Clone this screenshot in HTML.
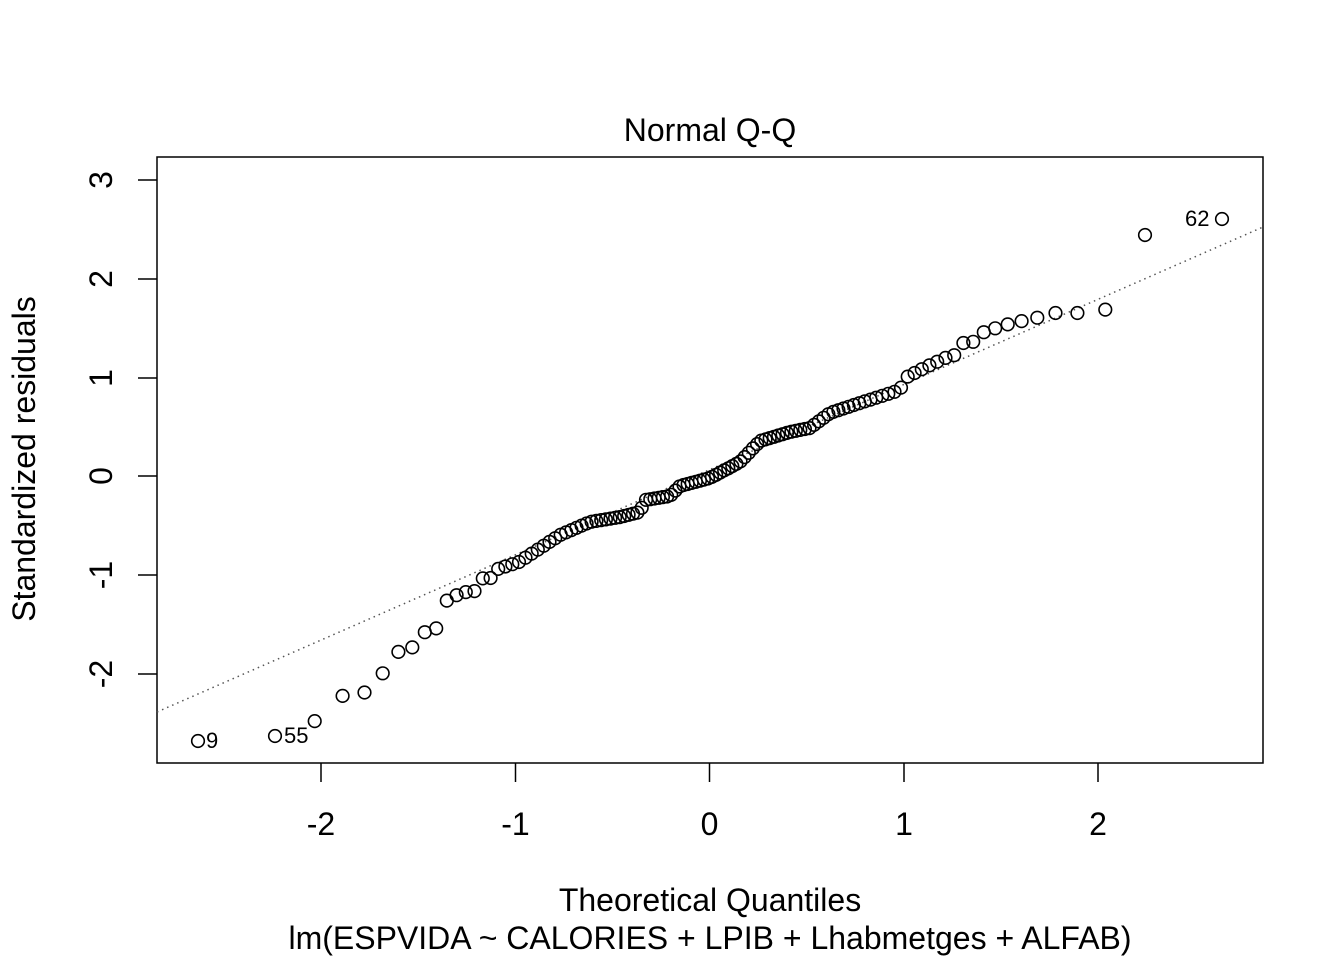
<!DOCTYPE html>
<html><head><meta charset="utf-8"><style>html,body{margin:0;padding:0;background:#fff}svg{display:block}</style></head>
<body>
<svg id="s" width="1344" height="960" xmlns="http://www.w3.org/2000/svg" font-family="Liberation Sans, Arial, sans-serif">
<rect width="1344" height="960" fill="#fff"/>
<rect x="157" y="157" width="1106" height="606" fill="none" stroke="#000" stroke-width="1.5"/>
<line x1="157" y1="712" x2="1263" y2="227" stroke="#555" stroke-width="1.5" stroke-dasharray="1.5,4"/>
<g stroke="#000" stroke-width="1.5">
<line x1="321" y1="763" x2="321" y2="782"/><line x1="515.5" y1="763" x2="515.5" y2="782"/><line x1="709.5" y1="763" x2="709.5" y2="782"/><line x1="904" y1="763" x2="904" y2="782"/><line x1="1098" y1="763" x2="1098" y2="782"/>
<line x1="157" y1="180" x2="138" y2="180"/><line x1="157" y1="279" x2="138" y2="279"/><line x1="157" y1="378" x2="138" y2="378"/><line x1="157" y1="476" x2="138" y2="476"/><line x1="157" y1="575" x2="138" y2="575"/><line x1="157" y1="674" x2="138" y2="674"/>
</g>
<g font-size="32" text-anchor="middle" fill="#000">
<text x="321" y="835">-2</text><text x="515.5" y="835">-1</text><text x="709.5" y="835">0</text><text x="904" y="835">1</text><text x="1098" y="835">2</text>
<text transform="translate(112,180) rotate(-90)">3</text>
<text transform="translate(112,279) rotate(-90)">2</text>
<text transform="translate(112,378) rotate(-90)">1</text>
<text transform="translate(112,476) rotate(-90)">0</text>
<text transform="translate(112,575) rotate(-90)">-1</text>
<text transform="translate(112,674) rotate(-90)">-2</text>
<text x="710" y="141">Normal Q-Q</text>
<text x="710" y="911">Theoretical Quantiles</text>
<text x="710" y="949">lm(ESPVIDA ~ CALORIES + LPIB + Lhabmetges + ALFAB)</text>
<text transform="translate(35,459) rotate(-90)">Standardized residuals</text>
</g>
<g font-size="22" fill="#000">
<text x="206" y="748">9</text><text x="284" y="743">55</text><text x="1185" y="226">62</text>
</g>
<g id="pts" fill="none" stroke="#000" stroke-width="1.6"></g>
</svg>
<script>
function qn(p){var a=[-39.69683028665376,220.9460984245205,-275.9285104469687,138.357751867269,-30.66479806614716,2.506628277459239],b=[-54.47609879822406,161.5858368580409,-155.6989798598866,66.80131188771972,-13.28068155288572],c=[-0.007784894002430293,-0.3223964580411365,-2.400758277161838,-2.549732539343734,4.374664141464968,2.938163982698783],d=[0.007784695709041462,0.3224671290700398,2.445134137142996,3.754408661907416];var q,r;if(p<0.02425){q=Math.sqrt(-2*Math.log(p));return(((((c[0]*q+c[1])*q+c[2])*q+c[3])*q+c[4])*q+c[5])/((((d[0]*q+d[1])*q+d[2])*q+d[3])*q+1);}if(p>1-0.02425){q=Math.sqrt(-2*Math.log(1-p));return-(((((c[0]*q+c[1])*q+c[2])*q+c[3])*q+c[4])*q+c[5])/((((d[0]*q+d[1])*q+d[2])*q+d[3])*q+1);}q=p-0.5;r=q*q;return(((((a[0]*r+a[1])*r+a[2])*r+a[3])*r+a[4])*r+a[5])*q/(((((b[0]*r+b[1])*r+b[2])*r+b[3])*r+b[4])*r+1);}
var A=[[198,741],[275,736],[315,721],[342,696],[364,693],[383,673],[398,652],[411,649],[425,632],[436,629],[447,600],[457,595],[466,592],[475,591],[483,578],[491,578],[498,569],[519,562],[560,535],[590,522],[620,517],[640,512],[645,500],[670,496],[680,486],[710,478],[740,462],[760,441],[790,432],[810,428],[830,413],[860,403],[900,390],[905,378],[928,366],[945,358],[955,355],[963,343],[973,342],[984,332],[996,328],[1009,324],[1022,321],[1036,318],[1055,313],[1077,313],[1104,312],[1145,235],[1222,219]];
function iy(x){for(var i=0;i<A.length-1;i++){if(x<=A[i+1][0])return A[i][1]+(A[i+1][1]-A[i][1])*(x-A[i][0])/(A[i+1][0]-A[i][0]);}return A[A.length-1][1];}
var g=document.getElementById('pts'),n=120,h='';
var xs=[];for(var i=1;i<=n;i++){xs.push(709.5+194.3*qn((i-0.5)/n));}
var sx=(1222-198)/(xs[n-1]-xs[0]);
for(i=0;i<n;i++){var x=198+(xs[i]-xs[0])*sx;h+='<circle cx="'+x.toFixed(1)+'" cy="'+iy(x).toFixed(1)+'" r="6.3"/>';}
g.innerHTML=h;
</script>
</body></html>
